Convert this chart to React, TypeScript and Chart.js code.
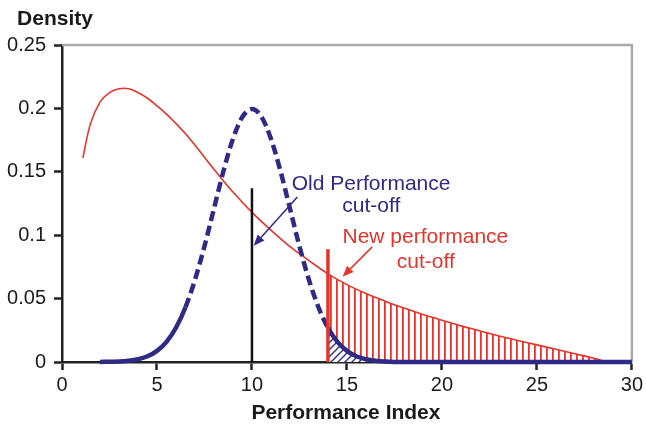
import React, { useEffect, useRef } from "react";
import { Chart, registerables } from "chart.js";

Chart.register(...registerables);

// Red (new performance) distribution
const RED_X = [1.1, 1.5, 2, 2.5, 3, 3.5, 4, 4.5, 5, 5.5, 6, 6.5, 7, 7.5, 8, 9, 10, 11, 12, 13, 14, 15, 16, 17, 18, 19, 20, 21, 22, 23, 24, 25, 26, 27, 28, 28.4];
const RED_Y = [0.161, 0.188, 0.205, 0.2125, 0.2155, 0.2155, 0.2125, 0.208, 0.202, 0.1955, 0.188, 0.18, 0.171, 0.1615, 0.152, 0.134, 0.118, 0.104, 0.091, 0.08, 0.0695, 0.061, 0.054, 0.048, 0.0425, 0.0375, 0.033, 0.0285, 0.0245, 0.0205, 0.017, 0.0135, 0.01, 0.0065, 0.003, 0.0012];

// Blue (old performance) distribution
const BLUE_X = [2, 2.5, 3, 3.5, 4, 4.5, 5, 5.5, 6, 6.5, 7, 7.5, 8, 8.5, 9, 9.5, 10, 10.5, 11, 11.5, 12, 12.5, 13, 13.5, 14, 14.5, 15, 15.5, 16, 16.5, 17, 18, 20, 25, 30];
const BLUE_Y = [0, 0.0002, 0.0004, 0.001, 0.0022, 0.0045, 0.0088, 0.0159, 0.027, 0.0432, 0.0648, 0.0913, 0.121, 0.1506, 0.176, 0.1934, 0.1995, 0.1934, 0.176, 0.1506, 0.121, 0.0913, 0.0648, 0.0432, 0.027, 0.0159, 0.0088, 0.0045, 0.0022, 0.001, 0.0004, 0, 0, 0, 0];

// Cut-off markers
const OLD_CUTOFF_X = 10;
const OLD_CUTOFF_TOP = 0.137;
const NEW_CUTOFF_X = 14;
const NEW_CUTOFF_TOP = 0.089;
const BLUE_HATCH_END = 17;

// Axes
const X_MIN = 0, X_MAX = 30, X_STEP = 5;
const Y_MIN = 0, Y_MAX = 0.25, Y_STEP = 0.05;
const X_TITLE = "Performance Index";
const Y_TITLE = "Density";

// Annotations (data coordinates)
const OLD_LABEL = ["Old Performance", "cut-off"];
const OLD_LABEL_POS = [{ x: 16.27, y: 0.1403 }, { x: 16.28, y: 0.1229 }];
const OLD_ARROW = [{ x: 12.39, y: 0.1302 }, { x: 10.09, y: 0.0917 }];
const NEW_LABEL = ["New performance", "cut-off"];
const NEW_LABEL_POS = [{ x: 19.13, y: 0.0988 }, { x: 19.15, y: 0.0787 }];
const NEW_ARROW = [{ x: 16.33, y: 0.0908 }, { x: 14.77, y: 0.0673 }];

const BLUE = "#2e2a85";
const RED = "#e5352b";
const TEXT = "#1a1a1a";
const FONT = '"Liberation Sans", Arial, Helvetica, sans-serif';

function makeRedPattern(): CanvasPattern | string {
  const c = document.createElement("canvas");
  c.width = 6; c.height = 6;
  const g = c.getContext("2d");
  if (!g) return RED;
  g.fillStyle = RED;
  g.fillRect(0, 0, 1.8, 6);
  return g.createPattern(c, "repeat") || RED;
}

function makeBluePattern(): CanvasPattern | string {
  const s = 7;
  const c = document.createElement("canvas");
  c.width = s; c.height = s;
  const g = c.getContext("2d");
  if (!g) return BLUE;
  g.fillStyle = "#ffffff";
  g.fillRect(0, 0, s, s);
  g.strokeStyle = BLUE;
  g.lineWidth = 1.4;
  g.beginPath();
  g.moveTo(-1, s + 1); g.lineTo(s + 1, -1);
  g.moveTo(-1, 1); g.lineTo(1, -1);
  g.moveTo(s - 1, s + 1); g.lineTo(s + 1, s - 1);
  g.stroke();
  return g.createPattern(c, "repeat") || BLUE;
}

function drawArrow(ctx: CanvasRenderingContext2D, x1: number, y1: number, x2: number, y2: number, color: string) {
  const ang = Math.atan2(y2 - y1, x2 - x1);
  const len = 11, half = 4.5;
  const bx = x2 - len * Math.cos(ang), by = y2 - len * Math.sin(ang);
  ctx.save();
  ctx.strokeStyle = color;
  ctx.fillStyle = color;
  ctx.lineWidth = 1.5;
  ctx.beginPath();
  ctx.moveTo(x1, y1);
  ctx.lineTo(bx, by);
  ctx.stroke();
  ctx.beginPath();
  ctx.moveTo(x2, y2);
  ctx.lineTo(bx + half * Math.sin(ang), by - half * Math.cos(ang));
  ctx.lineTo(bx - half * Math.sin(ang), by + half * Math.cos(ang));
  ctx.closePath();
  ctx.fill();
  ctx.restore();
}

const annotPlugin = {
  id: "annot",
  beforeDatasetsDraw(chart: any) {
    const { ctx, chartArea: a } = chart;
    ctx.save();
    ctx.strokeStyle = "#aaaaaa";
    ctx.lineWidth = 2.5;
    ctx.beginPath();
    ctx.moveTo(a.left, a.top);
    ctx.lineTo(a.right, a.top);
    ctx.lineTo(a.right, a.bottom);
    ctx.stroke();
    ctx.restore();
  },
  afterDatasetsDraw(chart: any) {
    const { ctx } = chart;
    const xs = chart.scales.x, ys = chart.scales.y;
    const px = (p: { x: number; y: number }) => [xs.getPixelForValue(p.x), ys.getPixelForValue(p.y)];
    ctx.save();
    ctx.font = `21px ${FONT}`;
    ctx.textAlign = "center";
    ctx.textBaseline = "middle";
    ctx.fillStyle = BLUE;
    OLD_LABEL.forEach((t, i) => { const [x, y] = px(OLD_LABEL_POS[i]); ctx.fillText(t, x, y); });
    ctx.fillStyle = RED;
    NEW_LABEL.forEach((t, i) => { const [x, y] = px(NEW_LABEL_POS[i]); ctx.fillText(t, x, y); });
    ctx.restore();
    const [a1, b1] = px(OLD_ARROW[0]); const [a2, b2] = px(OLD_ARROW[1]);
    drawArrow(ctx, a1, b1, a2, b2, BLUE);
    const [c1, d1] = px(NEW_ARROW[0]); const [c2, d2] = px(NEW_ARROW[1]);
    drawArrow(ctx, c1, d1, c2, d2, RED);
  },
  afterDraw(chart: any) {
    const { ctx, chartArea: a } = chart;
    ctx.save();
    ctx.font = `bold 21px ${FONT}`;
    ctx.fillStyle = TEXT;
    ctx.textAlign = "center";
    ctx.textBaseline = "middle";
    ctx.fillText(X_TITLE, (a.left + a.right) / 2 - 1, 413);
    ctx.fillText(Y_TITLE, 55, 19);
    ctx.restore();
  },
};

export default function App() {
  const ref = useRef<HTMLCanvasElement | null>(null);
  useEffect(() => {
    if (!ref.current) return;
    const red = RED_X.map((x, i) => ({ x, y: RED_Y[i] }));
    const blue = BLUE_X.map((x, i) => ({ x, y: BLUE_Y[i] }));
    const redTail = red.filter((p) => p.x >= NEW_CUTOFF_X);
    const blueTail = blue.filter((p) => p.x >= NEW_CUTOFF_X && p.x <= BLUE_HATCH_END);

    const chart = new Chart(ref.current, {
      type: "line",
      data: {
        datasets: [
          {
            label: "old cut",
            data: [{ x: OLD_CUTOFF_X, y: 0 }, { x: OLD_CUTOFF_X, y: OLD_CUTOFF_TOP }],
            borderColor: "#111111", borderWidth: 2.5, pointRadius: 0, tension: 0, clip: false,
          },
          {
            label: "new cut",
            data: [{ x: NEW_CUTOFF_X, y: 0 }, { x: NEW_CUTOFF_X, y: NEW_CUTOFF_TOP }],
            borderColor: RED, borderWidth: 3.5, pointRadius: 0, tension: 0, clip: false,
          },
          {
            label: "old",
            data: blue,
            borderColor: BLUE, borderWidth: 4.5, pointRadius: 0,
            cubicInterpolationMode: "monotone", borderCapStyle: "butt", clip: false,
            segment: {
              borderDash: (c: any) => {
                const x0 = c.p0.parsed.x;
                return x0 >= 6.5 && x0 < NEW_CUTOFF_X ? [10, 5] : [];
              },
            },
          },
          {
            label: "new",
            data: red,
            borderColor: RED, borderWidth: 1.6, pointRadius: 0,
            tension: 0.4, clip: false,
          },
          {
            label: "old hatch",
            data: blueTail,
            borderWidth: 0, pointRadius: 0, fill: "origin",
            backgroundColor: makeBluePattern() as any,
            cubicInterpolationMode: "monotone",
          },
          {
            label: "new hatch",
            data: redTail,
            borderWidth: 0, pointRadius: 0, fill: "origin",
            backgroundColor: makeRedPattern() as any,
            tension: 0.4,
          },
        ],
      },
      options: {
        animation: false,
        responsive: false,
        layout: { padding: { top: 45, right: 12, left: 0, bottom: 0 } },
        plugins: { legend: { display: false }, tooltip: { enabled: false } },
        scales: {
          x: {
            type: "linear", min: X_MIN, max: X_MAX,
            afterFit: (s: any) => { s.height = 64; },
            ticks: { stepSize: X_STEP, color: TEXT, font: { family: FONT, size: 20 }, padding: 3, maxRotation: 0, autoSkip: false },
            grid: { drawOnChartArea: false, drawTicks: true, tickLength: 8, tickWidth: 2.5, tickColor: "#222222" },
            border: { color: "#222222", width: 2.5 },
          },
          y: {
            type: "linear", min: Y_MIN, max: Y_MAX,
            afterFit: (s: any) => { s.width = 62; },
            ticks: {
              stepSize: Y_STEP, color: TEXT, font: { family: FONT, size: 20 }, padding: 8,
              callback: (v: any) => String(+Number(v).toFixed(2)),
            },
            grid: { drawOnChartArea: false, drawTicks: true, tickLength: 8, tickWidth: 2.5, tickColor: "#222222" },
            border: { color: "#222222", width: 2.5 },
          },
        },
      },
      plugins: [annotPlugin],
    });
    return () => chart.destroy();
  }, []);

  return (
    <div style={{ position: "absolute", left: 0, top: 0, width: 646, height: 426, background: "#fff" }}>
      <canvas ref={ref} width={646} height={426} />
    </div>
  );
}
